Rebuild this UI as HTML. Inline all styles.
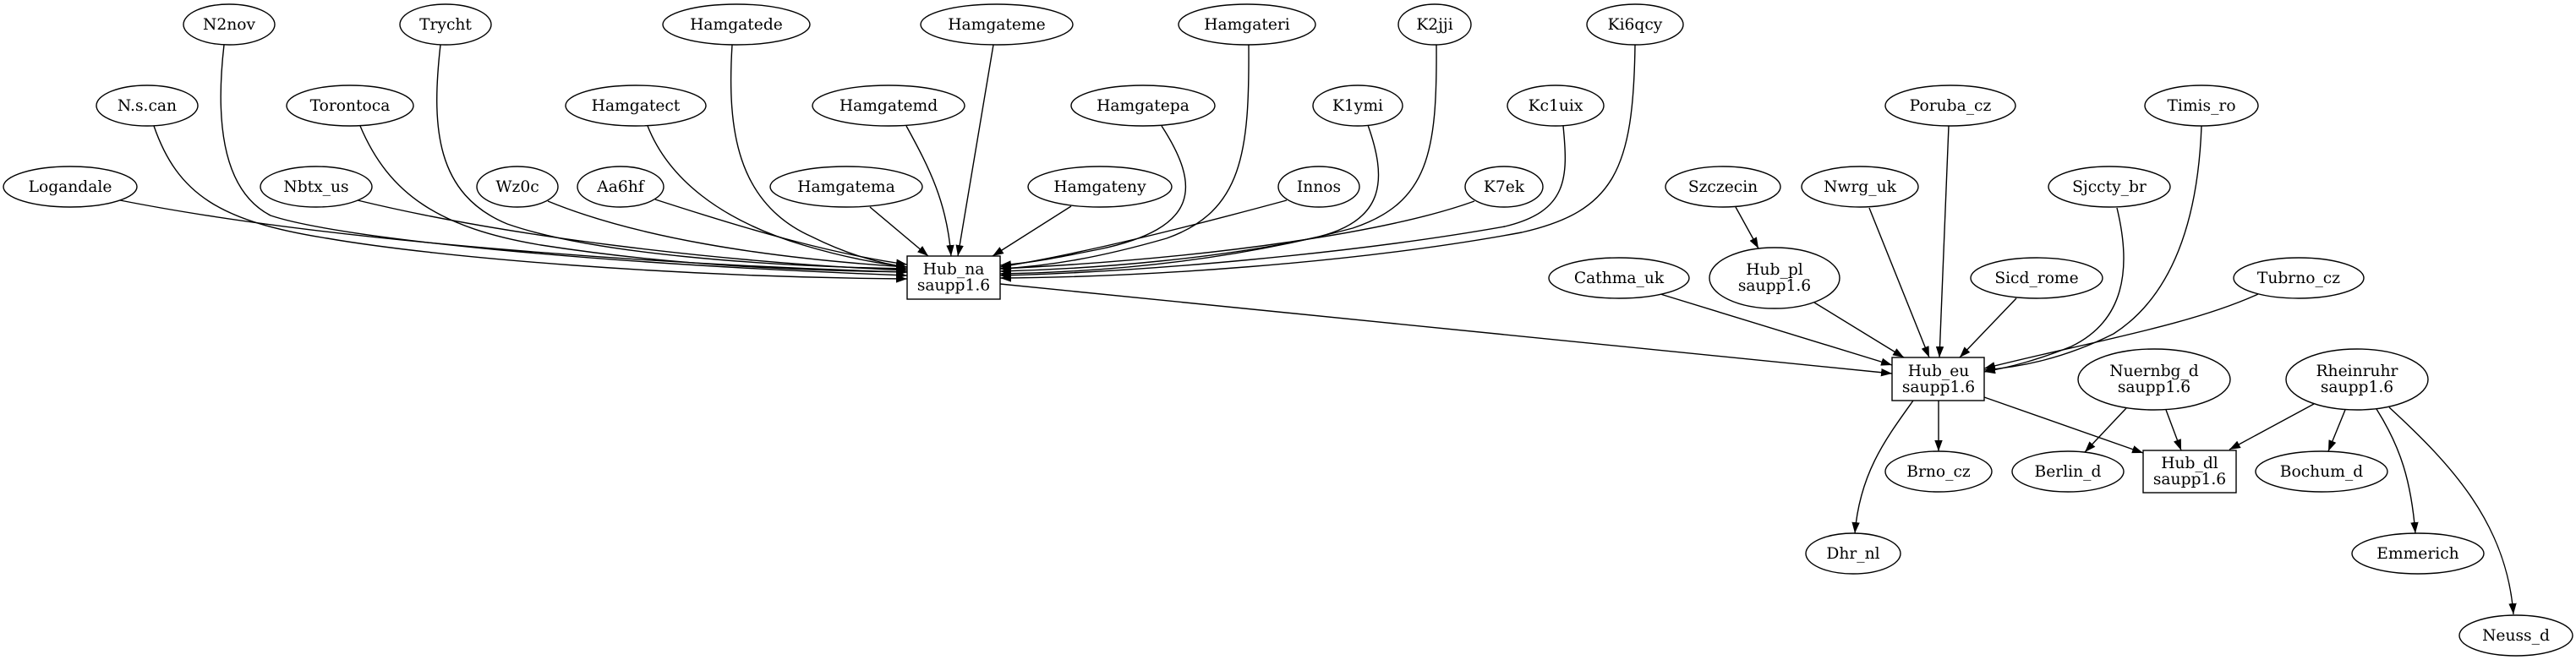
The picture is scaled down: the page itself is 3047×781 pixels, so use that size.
<!DOCTYPE html>
<html><head><meta charset="utf-8"><style>
html,body{margin:0;padding:0;background:#fff;}
svg{display:block;}
text{font-family:"DejaVu Serif","Liberation Serif",serif;font-size:18.67px;fill:#000;}
</style></head><body>
<svg width="3047" height="781" viewBox="0 0 3047 781" xmlns="http://www.w3.org/2000/svg">
<defs>
<marker id="a" markerWidth="14" markerHeight="10" refX="13" refY="5" orient="auto" markerUnits="userSpaceOnUse">
<path d="M0,0.3 L13,5 L0,9.7 Z" fill="#000"/>
</marker>
</defs>
<rect width="3047" height="781" fill="#fff"/>
<g fill="none" stroke="#000" stroke-width="1.4" marker-end="url(#a)">
<!-- left into Hub_na -->
<path d="M142,237 C400,288 800,314 1073,322"/>
<path d="M182,149 C210,230 260,262 387,282 C520,305 800,328 1073,330"/>
<path d="M265,53 C255,140 262,225 320,255 C400,282 700,312 1073,326"/>
<path d="M423,237 C600,280 850,310 1073,320"/>
<path d="M426,149 C460,230 520,270 640,290 C800,315 950,320 1073,322"/>
<path d="M521,53 C510,150 515,230 600,265 C700,300 900,315 1073,318"/>
<path d="M648,238 C750,280 900,305 1073,316"/>
<path d="M775,236 C880,270 980,300 1073,313"/>
<path d="M766,149 C790,210 850,260 950,290 C1000,305 1040,312 1073,316"/>
<path d="M866,53 C860,150 870,240 960,280 C1000,300 1040,312 1073,316"/>
<!-- top into Hub_na -->
<path d="M1029,245 L1098,303"/>
<path d="M1072,149 C1100,200 1120,240 1125,303"/>
<path d="M1175,53 L1133,303"/>
<path d="M1267,244 L1174,303"/>
<!-- right into Hub_na -->
<path d="M1374,149 C1420,220 1420,270 1300,295 C1250,305 1220,311 1183,314"/>
<path d="M1477,53 C1478,180 1470,250 1380,282 C1300,305 1240,315 1183,318"/>
<path d="M1522,237 C1400,270 1280,300 1183,316"/>
<path d="M1618,148 C1640,210 1640,260 1560,280 C1450,305 1300,318 1183,321"/>
<path d="M1699,53 C1700,180 1690,240 1600,270 C1450,310 1300,322 1183,324"/>
<path d="M1744,238 C1650,272 1450,305 1183,318"/>
<path d="M1849,149 C1855,210 1855,250 1780,268 C1600,300 1350,322 1183,326"/>
<path d="M1934,53 C1932,200 1910,250 1800,275 C1600,312 1350,328 1183,329"/>
<!-- Hub_na -> Hub_eu -->
<path d="M1183,336 L2238,442"/>
<!-- into Hub_eu -->
<path d="M1964,348 L2238,432"/>
<path d="M2146,358 L2252,423"/>
<path d="M2211,246 L2282,423"/>
<path d="M2305,149 L2294,423"/>
<path d="M2385,353 L2318,423"/>
<path d="M2504,246 C2522,320 2512,380 2450,410 C2410,426 2380,434 2347,440"/>
<path d="M2604,149 C2600,260 2570,350 2500,395 C2440,425 2390,434 2347,438"/>
<path d="M2671,348 C2590,385 2470,405 2347,436"/>
<!-- Szczecin -> Hub_pl -->
<path d="M2053,245 L2080,294"/>
<!-- Hub_eu out -->
<path d="M2293,474 L2293,534"/>
<path d="M2263,474 C2230,520 2200,560 2194,631"/>
<path d="M2347,470 L2535,536"/>
<!-- Nuernbg_d -->
<path d="M2515,483 L2466,535"/>
<path d="M2562,485 L2580,533"/>
<!-- Rheinruhr -->
<path d="M2737,478 L2637,532"/>
<path d="M2774,485 L2754,534"/>
<path d="M2811,484 C2840,530 2852,570 2857,631"/>
<path d="M2826,482 C2900,550 2965,620 2973,727"/>
</g>
<g fill="#fff" stroke="#000" stroke-width="1.4">
<!-- row 1 -->
<ellipse cx="271" cy="29" rx="54" ry="24"/>
<ellipse cx="527" cy="29" rx="54" ry="24"/>
<ellipse cx="871" cy="29" rx="87" ry="24"/>
<ellipse cx="1179" cy="29" rx="90" ry="24"/>
<ellipse cx="1475" cy="29" rx="81" ry="24"/>
<ellipse cx="1697" cy="29" rx="43" ry="24"/>
<ellipse cx="1934" cy="29" rx="57" ry="24"/>
<!-- row 2 -->
<ellipse cx="174" cy="125" rx="60" ry="24"/>
<ellipse cx="414" cy="125" rx="75" ry="24"/>
<ellipse cx="752" cy="125" rx="83" ry="24"/>
<ellipse cx="1051" cy="125" rx="90" ry="24"/>
<ellipse cx="1352" cy="125" rx="85" ry="24"/>
<ellipse cx="1606" cy="125" rx="53" ry="24"/>
<ellipse cx="1840" cy="125" rx="57" ry="24"/>
<ellipse cx="2307" cy="125" rx="77" ry="24"/>
<ellipse cx="2604" cy="125" rx="67" ry="24"/>
<!-- row 3 -->
<ellipse cx="83" cy="221" rx="79" ry="24"/>
<ellipse cx="374" cy="221" rx="66" ry="24"/>
<ellipse cx="612" cy="221" rx="48" ry="24"/>
<ellipse cx="734" cy="221" rx="51" ry="24"/>
<ellipse cx="1001" cy="221" rx="90" ry="24"/>
<ellipse cx="1301" cy="221" rx="85" ry="24"/>
<ellipse cx="1560" cy="221" rx="48" ry="24"/>
<ellipse cx="1779" cy="221" rx="46" ry="24"/>
<ellipse cx="2038" cy="221" rx="68" ry="24"/>
<ellipse cx="2200" cy="221" rx="69" ry="24"/>
<ellipse cx="2495" cy="221" rx="72" ry="24"/>
<!-- row 4 -->
<rect x="1073" y="303" width="110" height="51"/>
<ellipse cx="1915" cy="329" rx="83" ry="24"/>
<ellipse cx="2099" cy="329" rx="77" ry="36"/>
<ellipse cx="2409" cy="329" rx="78" ry="24"/>
<ellipse cx="2719" cy="329" rx="77" ry="24"/>
<!-- row 5 -->
<rect x="2238" y="423" width="109" height="51"/>
<ellipse cx="2548" cy="449" rx="90" ry="36"/>
<ellipse cx="2788" cy="449" rx="84" ry="36"/>
<!-- row 6 -->
<ellipse cx="2293" cy="558" rx="63" ry="24"/>
<ellipse cx="2446" cy="558" rx="66" ry="24"/>
<rect x="2535" y="533" width="110" height="50"/>
<ellipse cx="2746" cy="558" rx="78" ry="24"/>
<!-- row 7/8 -->
<ellipse cx="2192" cy="655" rx="56" ry="24"/>
<ellipse cx="2860" cy="655" rx="78" ry="24"/>
<ellipse cx="2976" cy="752" rx="67" ry="24"/>
</g>
<g text-anchor="middle">
<text x="271" y="35">N2nov</text>
<text x="527" y="35">Trycht</text>
<text x="871" y="35">Hamgatede</text>
<text x="1179" y="35">Hamgateme</text>
<text x="1475" y="35">Hamgateri</text>
<text x="1697" y="35">K2jji</text>
<text x="1934" y="35">Ki6qcy</text>

<text x="174" y="131">N.s.can</text>
<text x="414" y="131">Torontoca</text>
<text x="752" y="131">Hamgatect</text>
<text x="1051" y="131">Hamgatemd</text>
<text x="1352" y="131">Hamgatepa</text>
<text x="1606" y="131">K1ymi</text>
<text x="1840" y="131">Kc1uix</text>
<text x="2307" y="131">Poruba_cz</text>
<text x="2604" y="131">Timis_ro</text>

<text x="83" y="227">Logandale</text>
<text x="374" y="227">Nbtx_us</text>
<text x="612" y="227">Wz0c</text>
<text x="734" y="227">Aa6hf</text>
<text x="1001" y="227">Hamgatema</text>
<text x="1301" y="227">Hamgateny</text>
<text x="1560" y="227">Innos</text>
<text x="1779" y="227">K7ek</text>
<text x="2038" y="227">Szczecin</text>
<text x="2200" y="227">Nwrg_uk</text>
<text x="2495" y="227">Sjccty_br</text>

<text x="1128" y="324.5">Hub_na</text>
<text x="1128" y="343.5">saupp1.6</text>
<text x="1915" y="335">Cathma_uk</text>
<text x="2099" y="325">Hub_pl</text>
<text x="2099" y="344">saupp1.6</text>
<text x="2409" y="335">Sicd_rome</text>
<text x="2719" y="335">Tubrno_cz</text>

<text x="2293" y="445">Hub_eu</text>
<text x="2293" y="464">saupp1.6</text>
<text x="2548" y="445">Nuernbg_d</text>
<text x="2548" y="464">saupp1.6</text>
<text x="2788" y="445">Rheinruhr</text>
<text x="2788" y="464">saupp1.6</text>

<text x="2293" y="564">Brno_cz</text>
<text x="2446" y="564">Berlin_d</text>
<text x="2590" y="554">Hub_dl</text>
<text x="2590" y="573">saupp1.6</text>
<text x="2746" y="564">Bochum_d</text>

<text x="2192" y="661">Dhr_nl</text>
<text x="2860" y="661">Emmerich</text>
<text x="2976" y="758">Neuss_d</text>
</g>
</svg>
</body></html>
